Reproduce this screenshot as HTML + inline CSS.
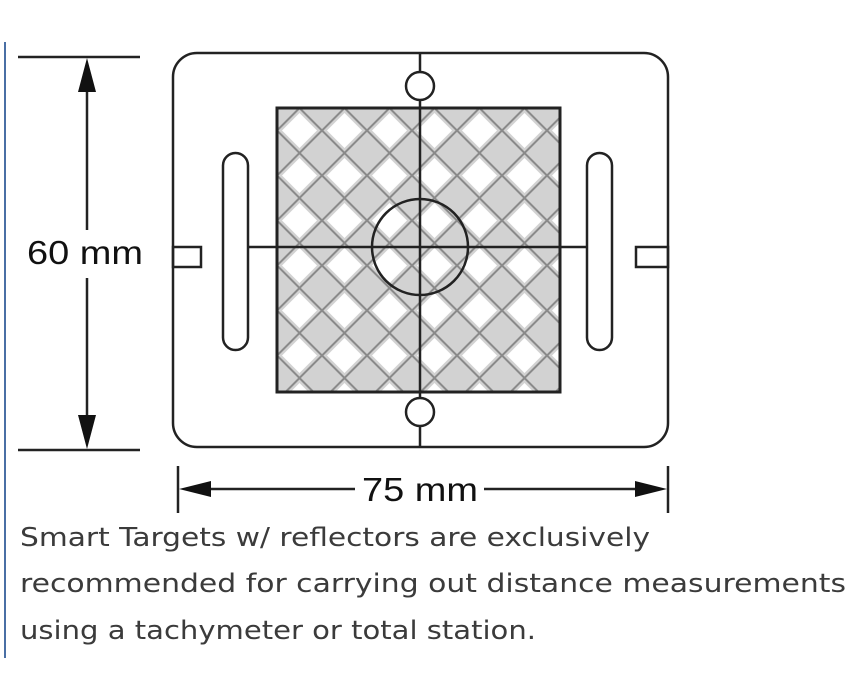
<!DOCTYPE html>
<html><head><style>html,body{margin:0;padding:0;background:#fff}svg{display:block}</style></head>
<body>
<svg width="868" height="700" viewBox="0 0 868 700" xmlns="http://www.w3.org/2000/svg">
<defs>
<pattern id="p" x="277" y="108" width="45" height="45" patternUnits="userSpaceOnUse">
<rect width="45" height="45" fill="#d2d2d2"/>
<polygon points="22.5,5 40,22.5 22.5,40 5,22.5" fill="#fff"/>
<path d="M22.5,0 L0,22.5 L22.5,45 L45,22.5 Z" stroke="#8a8a8a" stroke-width="2" fill="none"/>
</pattern>
</defs>
<line x1="5" y1="42" x2="5" y2="658" stroke="#4a6fa5" stroke-width="2"/>
<g stroke="#222" stroke-width="2.5" fill="none">
<rect x="173" y="53" width="495" height="394" rx="24"/>
<rect x="277" y="108" width="283" height="284" fill="url(#p)" stroke-width="3"/>
<line x1="420" y1="53" x2="420" y2="447"/>
<line x1="247" y1="247" x2="587" y2="247"/>
<circle cx="420" cy="247" r="48"/>
<circle cx="420" cy="86" r="14" fill="#fff"/>
<circle cx="420" cy="412" r="14" fill="#fff"/>
<rect x="223" y="153" width="25" height="197" rx="12.5" fill="#fff"/>
<rect x="587" y="153" width="25" height="197" rx="12.5" fill="#fff"/>
<rect x="173" y="247" width="28" height="20"/>
<rect x="636" y="247" width="32" height="20"/>
<line x1="18" y1="57" x2="140" y2="57"/>
<line x1="18" y1="450" x2="140" y2="450"/>
<line x1="87" y1="80" x2="87" y2="230"/>
<line x1="87" y1="278" x2="87" y2="428"/>
<line x1="178" y1="466" x2="178" y2="513"/>
<line x1="668" y1="466" x2="668" y2="513"/>
<line x1="200" y1="489" x2="355" y2="489"/>
<line x1="484" y1="489" x2="645" y2="489"/>
</g>
<g fill="#111">
<polygon points="87,58 78,92 96,92"/>
<polygon points="87,449 78,415 96,415"/>
<polygon points="179,489 211,481 211,497"/>
<polygon points="667,489 635,481 635,497"/>
</g>
<g font-family="'Liberation Sans', Arial, sans-serif" fill="#111" font-size="33">
<text x="27" y="264" textLength="116" lengthAdjust="spacingAndGlyphs">60 mm</text>
<text x="362" y="501" textLength="116" lengthAdjust="spacingAndGlyphs">75 mm</text>
</g>
<g font-family="'DejaVu Sans', 'Liberation Sans', sans-serif" fill="#3b3b3b" font-size="26">
<text x="20" y="546" textLength="630" lengthAdjust="spacingAndGlyphs">Smart Targets w/ reflectors are exclusively</text>
<text x="20" y="592" textLength="826" lengthAdjust="spacingAndGlyphs">recommended for carrying out distance measurements</text>
<text x="20" y="639" textLength="516" lengthAdjust="spacingAndGlyphs">using a tachymeter or total station.</text>
</g>
</svg>
</body></html>
